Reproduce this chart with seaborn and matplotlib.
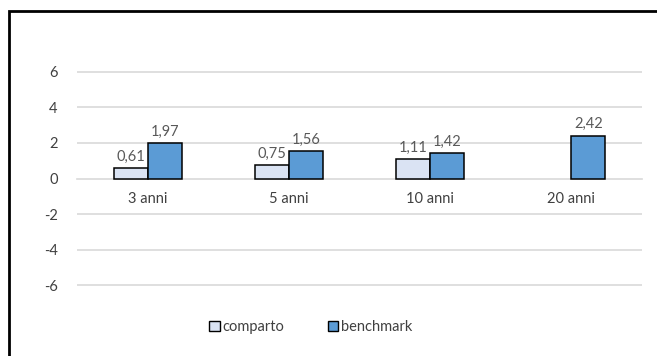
import matplotlib
matplotlib.use("Agg")
import matplotlib.pyplot as plt
from matplotlib.patches import Rectangle, Patch
import numpy as np
import pandas as pd
import seaborn as sns

categories = ["3 anni", "5 anni", "10 anni", "20 anni"]
comparto = [0.61, 0.75, 1.11, np.nan]
benchmark = [1.97, 1.56, 1.42, 2.42]
series_names = ["comparto", "benchmark"]
yticks = [-6, -4, -2, 0, 2, 4, 6]

df = pd.DataFrame({
    "periodo": categories * 2,
    "serie": [series_names[0]] * len(categories) + [series_names[1]] * len(categories),
    "valore": comparto + benchmark,
})

sns.set_theme(style="white")
plt.rcParams["font.family"] = ["Lato", "DejaVu Sans"]
plt.rcParams["axes.unicode_minus"] = False

W, H = 657, 356
fig = plt.figure(figsize=(W / 100, H / 100), dpi=100)
fig.patch.set_facecolor("white")

# chart frame, running off the right and bottom edges
fig.patches.append(Rectangle((9 / W, -0.05), 1.1, 1 - 11 / H + 0.05,
                             transform=fig.transFigure, fill=False,
                             edgecolor="black", linewidth=2))

ax = fig.add_axes([77 / W, 1 - 286 / H, (642 - 77) / W, (286 - 71) / H])

palette = {"comparto": "#DAE3F3", "benchmark": "#5B9BD5"}
sns.barplot(data=df, x="periodo", y="valore", hue="serie", order=categories,
            hue_order=series_names, palette=palette, width=0.48,
            edgecolor="black", linewidth=1.1, saturation=1, legend=False,
            ax=ax, zorder=3)

for cont in ax.containers:
    labels = ["" if np.isnan(v) else f"{v:.2f}".replace(".", ",") for v in cont.datavalues]
    ax.bar_label(cont, labels=labels, padding=3, fontsize=10.5, color="#595959")

ax.set_ylim(-6.05, 6.05)
ax.set_xlim(-0.5, len(categories) - 0.5)
ax.set_yticks(yticks)
ax.set_yticklabels([str(t) for t in yticks])
ax.tick_params(axis="y", length=0, labelsize=10.5, labelcolor="#404040", pad=14)
for t in yticks:
    if t != 0:
        ax.axhline(t, color="#D9D9D9", linewidth=1.2, zorder=0)

for s in ["top", "right", "left"]:
    ax.spines[s].set_visible(False)
ax.spines["bottom"].set_position(("data", 0))
ax.spines["bottom"].set_color("#D9D9D9")
ax.spines["bottom"].set_linewidth(1.2)
ax.spines["bottom"].set_zorder(1)

ax.set_xticks(range(len(categories)))
ax.set_xticklabels(categories)
ax.tick_params(axis="x", which="major", length=0, labelsize=10.5,
               labelcolor="#404040", pad=10)
ax.set_xticks(np.arange(-0.5, len(categories)), minor=True)
ax.tick_params(axis="x", which="minor", length=4, color="#D9D9D9", width=1.2,
               direction="out")
ax.set_xlabel("")
ax.set_ylabel("")
ax.set_facecolor("white")

handles = [Patch(facecolor=palette[n], edgecolor="black", linewidth=1, label=n)
           for n in series_names]
fig.legend(handles=handles, loc="center", bbox_to_anchor=(311 / W, 1 - 327 / H),
           ncol=2, frameon=False, fontsize=10.5, handlelength=0.7,
           handleheight=0.7, handletextpad=0.2, columnspacing=3.0,
           labelcolor="#404040")

fig.savefig("out.png", dpi=100, facecolor="white")
